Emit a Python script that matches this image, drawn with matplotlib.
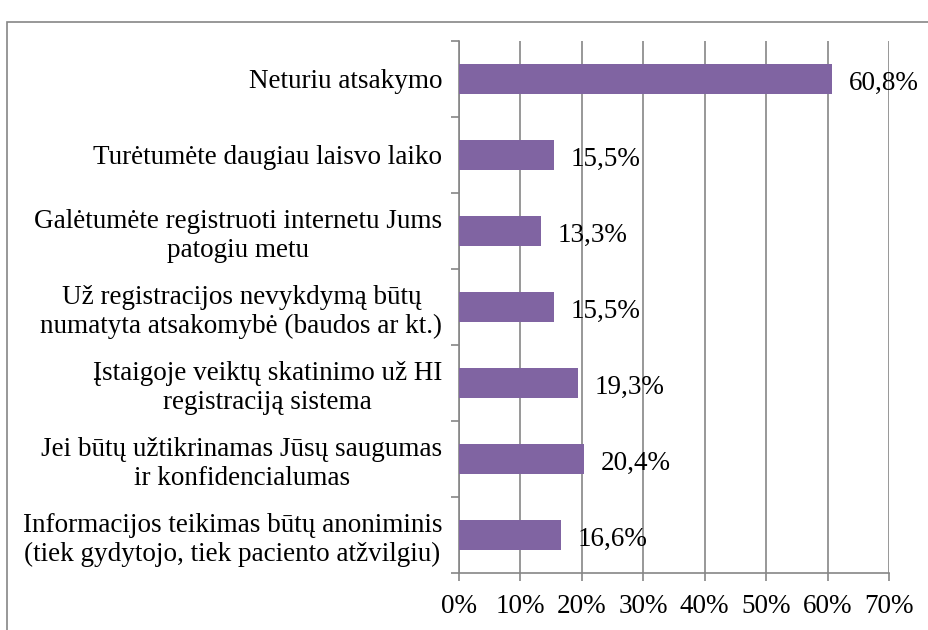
import numpy as np
import matplotlib.pyplot as plt
from matplotlib.patches import Rectangle
from matplotlib.ticker import FixedLocator

categories = [
    "Neturiu atsakymo",
    "Turėtumėte daugiau laisvo laiko",
    "Galėtumėte registruoti internetu Jums\npatogiu metu",
    "Už registracijos nevykdymą būtų\nnumatyta atsakomybė (baudos ar kt.)",
    "Įstaigoje veiktų skatinimo už HI\nregistraciją sistema",
    "Jei būtų užtikrinamas Jūsų saugumas\nir konfidencialumas",
    "Informacijos teikimas būtų anoniminis\n(tiek gydytojo, tiek paciento atžvilgiu)",
]
values = [60.8, 15.5, 13.3, 15.5, 19.3, 20.4, 16.6]
xticks = [0, 10, 20, 30, 40, 50, 60, 70]

plt.rcParams['font.family'] = ['Liberation Serif', 'DejaVu Serif']
grey = '#868686'
purple = '#8064A2'
fs = 19.5

fig = plt.figure(figsize=(9.29, 6.3), dpi=100)
ax = fig.add_axes([459 / 929, 1 - 573 / 630, 430 / 929, 532 / 630])

y = np.arange(len(categories))
ax.barh(y, values, height=0.4, color=purple, zorder=3)
for yi, v in zip(y, values):
    ax.annotate(f"{v:.1f}%".replace('.', ','), (v, yi), xytext=(12, -3),
                textcoords='offset points', va='center', ha='left',
                fontsize=fs, zorder=4)

ax.set_ylim(len(categories) - 0.5, -0.5)
ax.set_xlim(0, 70)
ax.set_yticks(y)
ax.set_yticklabels(categories, fontsize=fs, linespacing=1.2)
ax.yaxis.set_minor_locator(FixedLocator(np.arange(-0.5, len(categories), 1)))
ax.tick_params(axis='y', which='major', length=0, pad=12)
ax.tick_params(axis='y', which='minor', length=6, color=grey, width=1.2)
ax.set_xticks(xticks)
ax.set_xticklabels([f"{t}%" for t in xticks], fontsize=fs)
ax.tick_params(axis='x', length=6, color=grey, width=1.2, pad=9)
for lbl in ax.get_yticklabels():
    lbl.set_multialignment('center')

ax.grid(axis='x', color=grey, linewidth=1.2, zorder=0)
ax.set_axisbelow(True)
for s in ['top', 'right']:
    ax.spines[s].set_visible(False)
for s in ['left', 'bottom']:
    ax.spines[s].set_color(grey)
    ax.spines[s].set_linewidth(1.2)

fig.patches.append(Rectangle((7 / 929, -0.1), 1.1, 1 - 22 / 630 + 0.1,
                             transform=fig.transFigure, fill=False,
                             edgecolor=grey, linewidth=1.2))

fig.savefig('out.png', dpi=100)
